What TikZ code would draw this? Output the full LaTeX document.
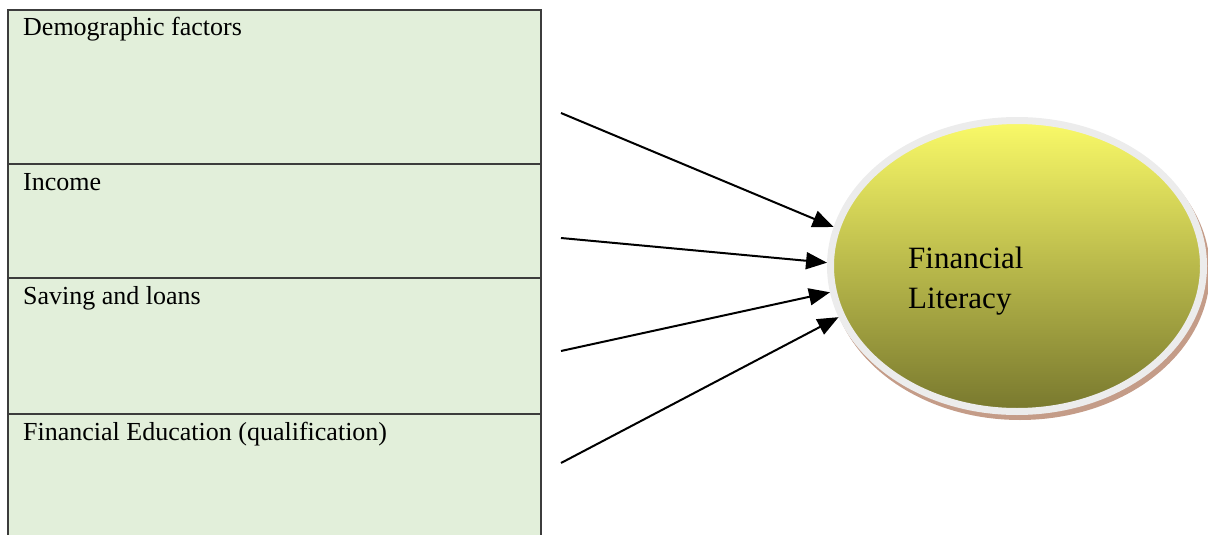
\documentclass[tikz,border=0pt]{standalone}
\usepackage{fontspec}
\setmainfont{Liberation Serif}
\usepackage{tikz}
\usetikzlibrary{shapes.geometric, arrows.meta, positioning, shadows}
\usepackage{xcolor}

\definecolor{rowgreen}{RGB}{226,239,218}
\definecolor{rowline}{RGB}{60,60,60}
\definecolor{ringgrey}{RGB}{236,236,236}
\definecolor{shadebrown}{RGB}{196,156,136}
\definecolor{yellowtop}{RGB}{250,250,104}
\definecolor{yellowmid}{RGB}{228,228,88}
\definecolor{yellowbot}{RGB}{120,120,46}

\begin{document}
\begin{tikzpicture}[
    x=1pt, y=-1pt,
    row/.style={draw=rowline, line width=1.6pt, fill=rowgreen, rectangle, minimum width=533pt, outer sep=0pt, inner sep=0pt, anchor=north west},
    rowtext/.style={anchor=base west, inner sep=0pt, font=\fontsize{26}{31}\selectfont},
    outcome/.style={ellipse, draw=ringgrey, line width=7pt, minimum width=373pt, minimum height=291pt,
        top color=yellowtop, middle color=yellowmid, bottom color=yellowbot,
        general shadow={fill=shadebrown, draw=shadebrown, shadow xshift=3pt, shadow yshift=-5pt}},
    arrow/.style={line width=2pt, -{Triangle[length=21pt, width=17pt]}}
]
\useasboundingbox (0,0) rectangle (1208,535);

% Factor table
\node (demo) [row, minimum height=154pt] at (8,10) {};
\node (income) [row, minimum height=114pt, below=0pt of demo.south west, anchor=north west] {};
\node (saving) [row, minimum height=136pt, below=0pt of income.south west, anchor=north west] {};
\node (educ) [row, minimum height=140pt, below=0pt of saving.south west, anchor=north west] {};

\node (demotext) [rowtext] at ([xshift=15pt, yshift=-26pt]demo.north west) {Demographic factors};
\node (incometext) [rowtext] at ([xshift=15pt, yshift=-26pt]income.north west) {Income};
\node (savingtext) [rowtext] at ([xshift=15pt, yshift=-26pt]saving.north west) {Saving and loans};
\node (eductext) [rowtext] at ([xshift=15pt, yshift=-26pt]educ.north west) {Financial Education (qualification)};

% Outcome
\node (lit) [outcome] at (1017,266) {};
\node (littext) [anchor=base west, inner sep=0pt, align=left, font=\fontsize{31}{40}\selectfont] at (908,308) {Financial\\Literacy};

% Arrows
\coordinate (s1) at (561,113);
\coordinate (s2) at (561,238);
\coordinate (s3) at (561,351);
\coordinate (s4) at (561,463);

\draw [arrow] (s1) -- (lit.168);
\draw [arrow] (s2) -- (lit.179);
\draw [arrow] (s3) -- (lit.188);
\draw [arrow] (s4) -- (lit.196);

\end{tikzpicture}
\end{document}
